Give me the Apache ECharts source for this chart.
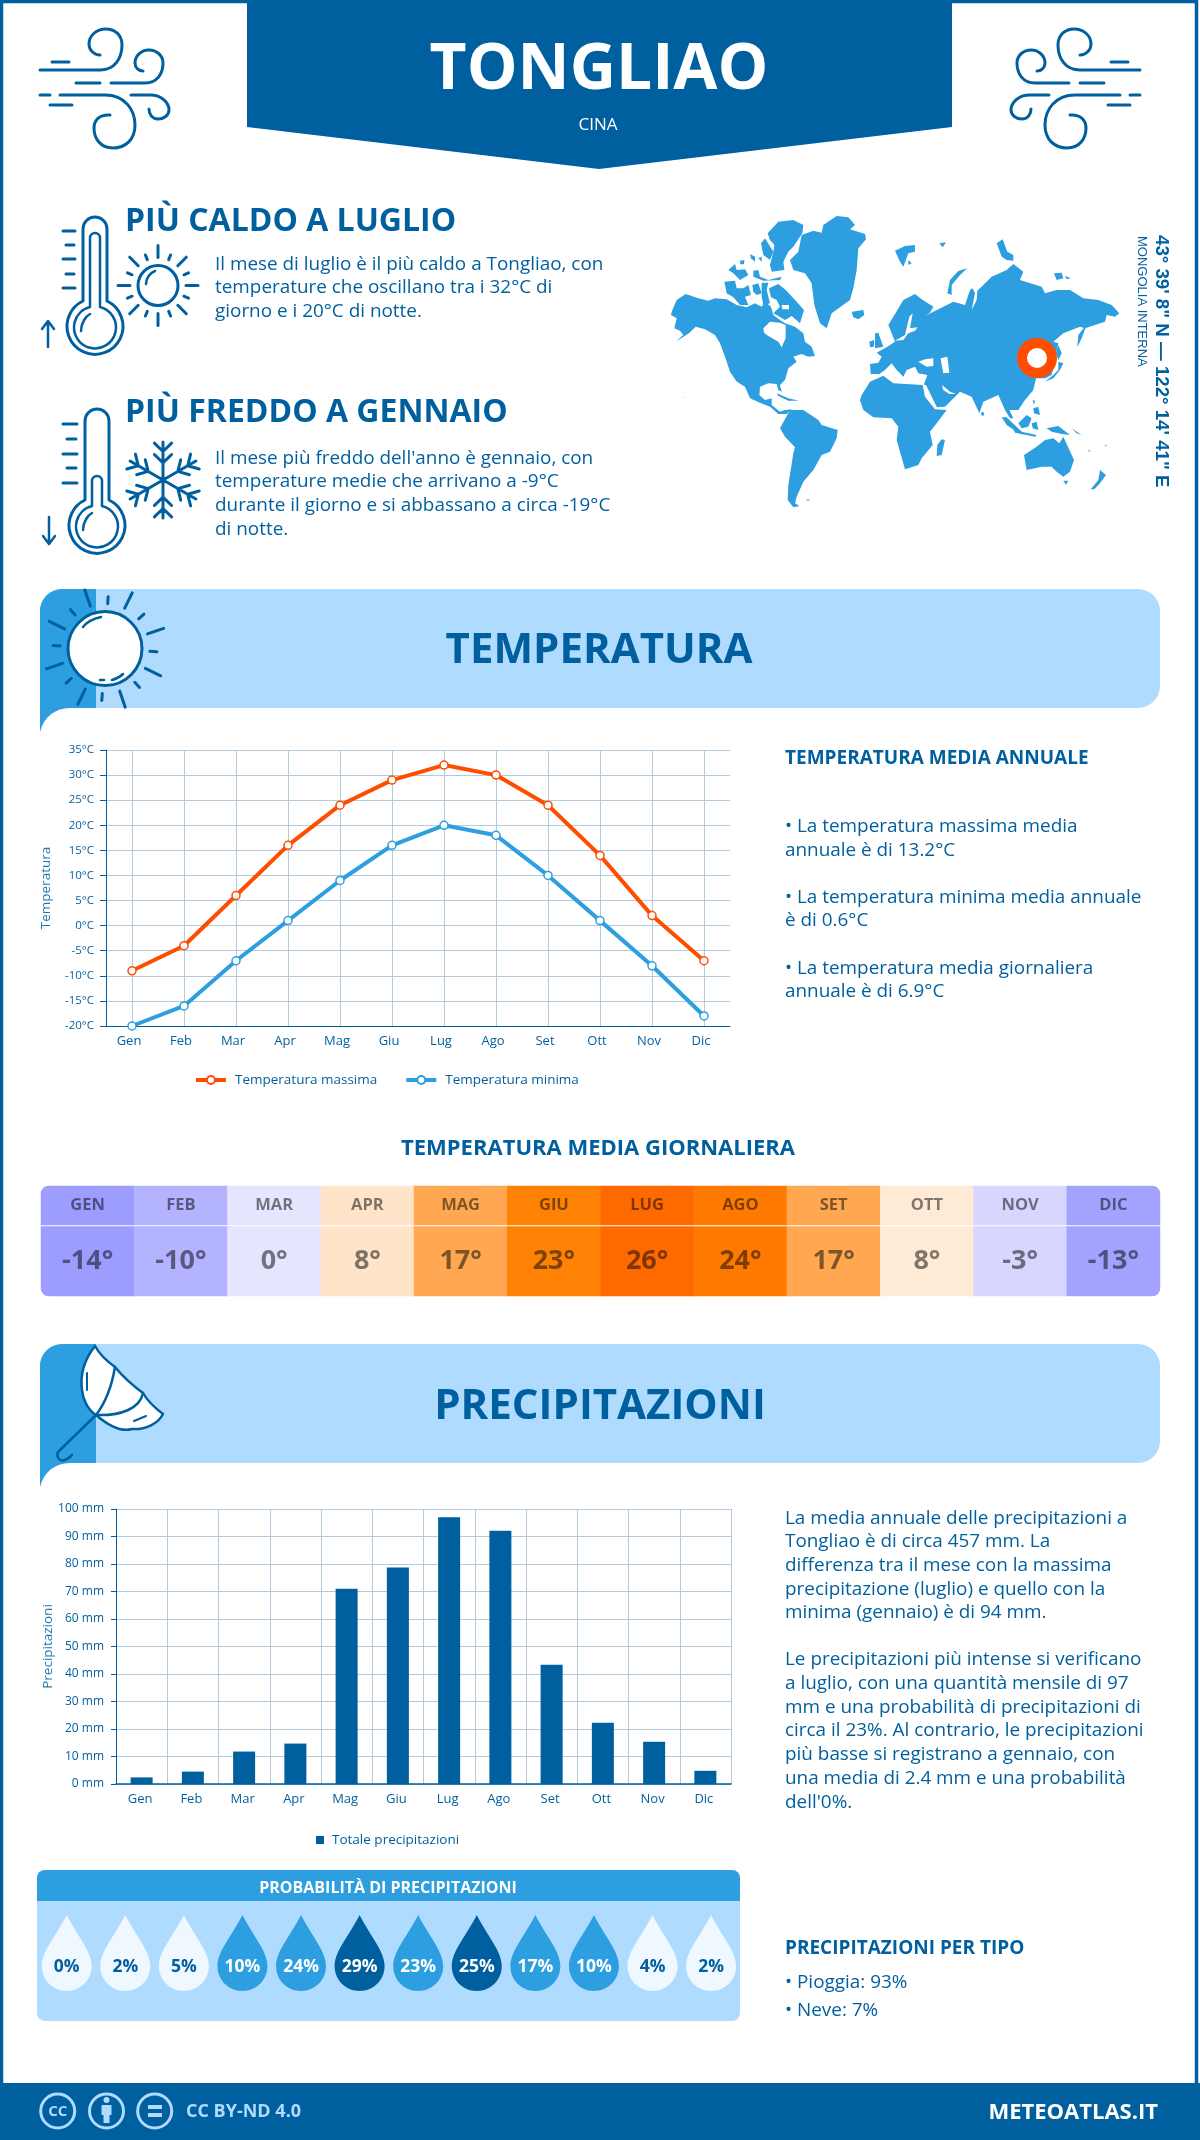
<!DOCTYPE html>
<html>
<head>
<meta charset="utf-8">
<title>Tongliao</title>
<script src="https://cdn.jsdelivr.net/npm/echarts@6/dist/echarts.min.js"></script>
<style>
    html, body { margin: 0; padding: 0; background: #fff; }
    #chart { width: 1200px; height: 2140px; }
</style>
</head>
<body>
<div id="chart"></div>
<script>
let months = ['Gen', 'Feb', 'Mar', 'Apr', 'Mag', 'Giu', 'Lug', 'Ago', 'Set', 'Ott', 'Nov', 'Dic'];
let monthsUpper = ['GEN', 'FEB', 'MAR', 'APR', 'MAG', 'GIU', 'LUG', 'AGO', 'SET', 'OTT', 'NOV', 'DIC'];
let tempMax = [-9, -4, 6, 16, 24, 29, 32, 30, 24, 14, 2, -7];
let tempMin = [-20, -16, -7, 1, 9, 16, 20, 18, 10, 1, -8, -18];
let tempDaily = [-14, -10, 0, 8, 17, 23, 26, 24, 17, 8, -3, -13];
let tempDailyColors = ['#9d9dff', '#b3b3ff', '#e5e5ff', '#ffe4ca', '#ffa851', '#ff8205', '#ff6a00', '#ff7a00', '#ffa851', '#ffead5', '#d6d6ff', '#a3a3ff'];
let rainTotal = [2.4, 4.5, 11.8, 14.7, 71, 78.7, 97, 92.1, 43.4, 22.3, 15.4, 4.8];
let rainChance = [0, 2, 5, 10, 24, 29, 23, 25, 17, 10, 4, 2];

const DARK = '#005f9e';
const MID = '#2d9fe0';
const LIGHT = '#afdbff';
const GRIDLINE = '#b4cbdd';
const FONT = '"Open Sans"';

function text(str, x, y, size, weight, color, align) {
    return {
        type: 'text', x: x, y: y + size * 0.07, z: 5,
        style: {
            text: str, fontFamily: FONT, fontSize: size, fontWeight: weight || 400,
            fill: color || DARK, align: align || 'left', verticalAlign: 'middle'
        }
    };
}

function lines(strs, x, ys, size) {
    return strs.map(function (s, i) { return text(s, x, ys[i], size); });
}

// graphic has no plain svg path type, so each path gets registered as its own shape
let shapeCount = 0;
function pathEl(d, z, style) {
    let name = 'iconPath' + (shapeCount++);
    echarts.graphic.registerShape(name, echarts.graphic.extendPath(d));
    return { type: name, z: z, style: style };
}

function stroke(d, width, fill) {
    return pathEl(d, 4, { stroke: DARK, lineWidth: width || 3, fill: fill || 'none', lineCap: 'round', lineJoin: 'round' });
}

function rays(cx, cy, n, start, spec) {
    let d = '';
    for (let i = 0; i < n; i++) {
        let a = (start + i * 360 / n) * Math.PI / 180;
        let r = spec[i % spec.length];
        d += 'M' + (cx + r[0] * Math.cos(a)).toFixed(1) + ' ' + (cy + r[0] * Math.sin(a)).toFixed(1);
        d += 'L' + (cx + r[1] * Math.cos(a)).toFixed(1) + ' ' + (cy + r[1] * Math.sin(a)).toFixed(1);
    }
    return d;
}

// wind icon, the right one is the same thing mirrored
let windPaths = [
    'M40 70H100C115 70 122 58 122 45C122 34 114 29 106 29C96 29 89 36 89 44C89 50 94 55 100 55',
    'M52 62H69', 'M76 83H100',
    'M111 83H145C157 83 163 74 163 63C163 55 156 50 149 50C141 50 135 56 135 63C135 68 139 71 143 71',
    'M60 95H105C125 95 135 110 135 125C135 140 125 148 113 148C100 148 94 138 94 128C94 120 100 114 110 115',
    'M40 95H50', 'M50 105H72',
    'M131 95H150C162 95 169 103 169 110C169 116 163 119 158 119C152 119 149 114 149 109'
];

function wind(x, scaleX) {
    return {
        type: 'group', x: x, y: 0, scaleX: scaleX, scaleY: 1,
        children: windPaths.map(function (p) { return stroke(p, 3); })
    };
}

function thermometer(cx, top, bulbY, innerTop) {
    return [
        stroke('M' + (cx - 12) + ' ' + (bulbY - 26) + 'V' + (top + 12) + 'A12 12 0 0 1 ' + (cx + 12) + ' ' + (top + 12) + 'V' + (bulbY - 26)
            + 'A28 28 0 1 1 ' + (cx - 12) + ' ' + (bulbY - 26) + 'Z', 3),
        stroke('M' + (cx - 5) + ' ' + (bulbY - 20) + 'V' + (innerTop + 5) + 'A5 5 0 0 1 ' + (cx + 5) + ' ' + (innerTop + 5) + 'V' + (bulbY - 20)
            + 'A21 21 0 1 1 ' + (cx - 5) + ' ' + (bulbY - 20) + 'Z', 2.5),
        stroke('M' + (cx - 14) + ' ' + (bulbY + 4) + 'C' + (cx - 14) + ' ' + (bulbY - 4) + ' ' + (cx - 9) + ' ' + (bulbY - 11) + ' ' + (cx - 5) + ' ' + (bulbY - 13), 2.5)
    ];
}

function snowflake(cx, cy, r) {
    let d = '';
    for (let i = 0; i < 6; i++) {
        let a = (90 + i * 60) * Math.PI / 180;
        let ux = Math.cos(a), uy = Math.sin(a);
        d += 'M' + cx + ' ' + cy + 'L' + (cx + r * ux).toFixed(1) + ' ' + (cy + r * uy).toFixed(1);
        [0.45, 0.75].forEach(function (k) {
            [-1, 1].forEach(function (s) {
                let b = a + s * 0.8;
                let bx = cx + r * k * ux, by = cy + r * k * uy;
                d += 'M' + bx.toFixed(1) + ' ' + by.toFixed(1) + 'L' + (bx + 12 * Math.cos(b)).toFixed(1) + ' ' + (by + 12 * Math.sin(b)).toFixed(1);
            });
        });
    }
    return d;
}

function sectionBand(top, bottom) {
    return [
        { type: 'rect', z: 1, shape: { x: 40, y: top, width: 1120, height: bottom - top, r: 22 }, style: { fill: LIGHT } },
        pathEl('M40 ' + (bottom + 24) + 'C44 ' + (bottom + 8) + ' 56 ' + bottom + ' 70 ' + bottom + 'H96V' + top + 'H62A22 22 0 0 0 40 ' + (top + 22) + 'Z', 2, { fill: MID })
    ];
}

// world map, traced at 3x from two crops: the americas side and the old world side
let westLand = [
    // north america
    [[20,305],[35,270],[62,252],[100,265],[130,272],[150,265],[185,268],[215,285],[245,292],[270,280],[290,290],[300,275],[318,290],[325,315],[345,330],[360,340],[390,350],[415,370],[420,395],[440,410],[450,438],[430,440],[410,432],[385,440],[395,455],[370,475],[360,510],[345,525],[350,545],[340,540],[335,522],[310,520],[285,530],[283,555],[300,570],[320,565],[320,585],[345,605],[360,600],[355,612],[340,612],[315,590],[285,578],[255,565],[240,530],[215,515],[195,485],[180,440],[165,400],[150,375],[120,358],[92,350],[72,370],[32,395],[55,375],[45,362],[28,355],[35,325],[18,315]],
    // arctic islands
    [[312,235],[340,222],[362,240],[395,275],[417,300],[405,340],[380,318],[360,330],[340,318],[325,310],[345,290],[335,270],[318,262]],
    [[178,215],[210,212],[215,235],[235,235],[250,225],[258,255],[240,260],[250,285],[225,285],[205,262],[185,250]],
    [[262,225],[280,220],[290,250],[275,255],[265,245]],
    [[290,218],[310,218],[305,240],[315,280],[295,285],[290,260]],
    [[265,182],[280,180],[285,200],[310,210],[350,200],[345,210],[295,212],[265,200]],
    [[190,180],[210,162],[215,180],[240,178],[250,195],[225,210],[205,190]],
    [[255,132],[270,140],[270,155],[258,145]],
    [[280,145],[290,140],[290,155]],
    [[225,152],[238,150],[237,163],[226,163]],
    [[308,70],[340,35],[385,30],[415,45],[412,70],[385,110],[370,125],[355,155],[358,180],[320,185],[315,165],[325,125],[328,105],[315,90]],
    [[288,100],[300,85],[325,125],[315,150],[295,135]],
    // greenland and iceland
    [[475,45],[515,18],[550,22],[570,45],[555,58],[600,72],[603,88],[580,115],[575,180],[565,235],[555,270],[500,310],[485,355],[465,340],[448,285],[440,220],[420,190],[385,180],[375,150],[400,125],[410,75],[445,62],[470,68]],
    [[560,305],[595,300],[598,315],[580,328],[565,322]],
    // caribbean and hawaii
    [[335,550],[370,565],[402,572],[370,572],[340,558]],
    [[50,555],[68,566],[60,562]],
    // south america
    [[345,655],[375,600],[415,600],[460,630],[470,645],[518,660],[515,685],[495,725],[470,735],[445,780],[415,815],[395,860],[390,880],[403,888],[385,892],[368,870],[370,825],[385,730],[390,712],[360,680]],
    [[340,610],[360,600],[380,598],[365,612],[345,612]],
    [[420,870],[435,868],[430,872]]
];
let westSea = [
    // hudson bay, foxe basin, gulf of california
    [[295,355],[315,335],[345,338],[362,345],[362,385],[350,412],[340,395],[310,378],[297,368]],
    [[350,285],[372,285],[372,298],[352,298]],
    [[213,515],[218,515],[242,550],[238,552]]
];
let eastLand = [
    // eurasia
    [[60,462],[85,458],[95,440],[80,428],[112,410],[135,395],[125,370],[115,345],[130,320],[160,270],[195,252],[215,268],[250,290],[240,308],[225,318],[265,298],[310,275],[345,285],[360,240],[368,235],[375,250],[365,300],[380,270],[382,242],[400,225],[425,200],[470,180],[490,162],[520,185],[510,210],[575,230],[585,250],[620,240],[660,240],[700,265],[745,270],[785,285],[808,310],[795,320],[770,315],[765,335],[705,355],[690,350],[640,370],[610,395],[625,400],[605,495],[585,505],[558,505],[550,540],[525,570],[505,600],[478,600],[490,625],[480,625],[465,600],[445,555],[400,575],[388,610],[365,560],[330,545],[300,575],[285,590],[260,592],[222,522],[232,495],[205,490],[195,470],[170,480],[160,500],[140,480],[125,460],[105,480],[88,492],[62,492]],
    // africa and madagascar
    [[35,555],[60,515],[100,497],[130,520],[218,525],[225,560],[255,598],[290,600],[260,640],[240,665],[248,705],[215,745],[205,765],[165,778],[150,725],[140,690],[145,650],[125,625],[70,622],[40,600],[30,570]],
    [[275,688],[285,690],[275,735],[260,738],[262,705]],
    // uk and ireland
    [[75,370],[85,368],[100,410],[75,415]],
    [[58,395],[72,390],[72,410],[60,412]],
    // arctic islands
    [[135,122],[165,108],[195,105],[195,125],[175,130],[160,170],[150,155]],
    [[175,150],[185,160],[175,165]],
    [[268,100],[288,97],[278,112]],
    [[292,250],[300,210],[325,183],[352,175],[330,195],[305,225],[305,255]],
    [[440,100],[458,88],[472,125],[490,135],[490,152],[470,150],[455,140]],
    [[612,190],[635,188],[640,205],[620,210]],
    [[645,197],[662,205],[650,208]],
    // east and south-east asia
    [[682,412],[685,375],[712,340],[695,385]],
    [[585,515],[610,495],[625,480],[625,455],[640,460],[630,480],[610,505]],
    [[625,405],[635,430],[625,450],[618,430]],
    [[548,570],[555,572],[552,585]],
    [[550,595],[565,590],[570,615],[552,610]],
    [[505,565],[512,565],[508,572]],
    [[455,622],[470,622],[520,670],[500,665],[470,645]],
    [[490,660],[560,675],[555,680],[495,668]],
    [[505,640],[530,615],[545,625],[535,650],[515,655]],
    [[545,640],[560,635],[565,660],[548,655]],
    [[590,655],[625,648],[660,675],[635,672],[605,665]],
    [[395,605],[403,608],[400,618],[393,615]],
    [[665,655],[695,675],[680,670]],
    [[715,718],[723,725],[716,724]],
    [[762,708],[772,704],[768,709]],
    // australia and new zealand
    [[522,735],[560,710],[585,690],[610,685],[628,700],[640,680],[672,750],[660,785],[640,800],[620,785],[605,770],[575,770],[530,780]],
    [[640,812],[655,812],[648,825]],
    [[722,838],[745,810],[750,780],[768,795],[750,820],[733,838]]
];
let eastSea = [
    // baltic, black sea, caspian, red sea, persian gulf
    [[135,392],[165,375],[178,320],[188,310],[180,355],[203,352],[195,362],[175,370],[160,390]],
    [[205,455],[225,448],[250,445],[250,468],[230,470]],
    [[272,445],[292,440],[298,488],[280,490],[275,465]],
    [[276,525],[300,545],[318,552],[298,552],[280,540]],
    [[218,525],[228,525],[262,595],[255,595]]
];

function mapShapes(x, land, sea) {
    let scaled = function (pts) {
        return pts.map(function (p) { return [x + p[0] / 3, 210 + p[1] / 3]; });
    };
    return land.map(function (pts) {
        return { type: 'polygon', z: 6, shape: { points: scaled(pts) }, style: { fill: MID } };
    }).concat(sea.map(function (pts) {
        return { type: 'polygon', z: 7, shape: { points: scaled(pts) }, style: { fill: '#fff' } };
    }));
}

let hotText = ['Il mese di luglio è il più caldo a Tongliao, con', 'temperature che oscillano tra i 32°C di', 'giorno e i 20°C di notte.'];
let coldText = ['Il mese più freddo dell\'anno è gennaio, con', 'temperature medie che arrivano a -9°C', 'durante il giorno e si abbassano a circa -19°C', 'di notte.'];
let tempNotes = ['• La temperatura massima media', 'annuale è di 13.2°C', '• La temperatura minima media annuale', 'è di 0.6°C', '• La temperatura media giornaliera', 'annuale è di 6.9°C'];
let rainNotes = [
    'La media annuale delle precipitazioni a', 'Tongliao è di circa 457 mm. La', 'differenza tra il mese con la massima',
    'precipitazione (luglio) e quello con la', 'minima (gennaio) è di 94 mm.',
    'Le precipitazioni più intense si verificano', 'a luglio, con una quantità mensile di 97', 'mm e una probabilità di precipitazioni di',
    'circa il 23%. Al contrario, le precipitazioni', 'più basse si registrano a gennaio, con', 'una media di 2.4 mm e una probabilità', 'dell\'0%.'
];

let decor = [].concat(
    [
        { type: 'rect', z: 0, shape: { x: 1.5, y: 1.5, width: 1195, height: 2090 }, style: { fill: '#fff', stroke: DARK, lineWidth: 3.5 } },
        { type: 'polygon', z: 1, shape: { points: [[247, 0], [952, 0], [952, 127], [599, 169], [247, 127]] }, style: { fill: DARK } },
        { type: 'rect', z: 1, shape: { x: 0, y: 2083, width: 1200, height: 57 }, style: { fill: DARK } },
        text('TONGLIAO', 599, 66, 64, 700, '#fff', 'center'),
        text('CINA', 598, 124, 17, 400, '#fff', 'center'),
        wind(0, 1),
        wind(1180, -1),
        text('PIÙ CALDO A LUGLIO', 125, 220, 32, 700),
        text('PIÙ FREDDO A GENNAIO', 125, 411, 32, 700)
    ],
    lines(hotText, 215, [263, 286, 310], 18.9),
    lines(coldText, 215, [457, 480, 504, 528], 18.9),
    thermometer(95, 217, 327, 233),
    thermometer(97, 409, 526, 476),
    [
        stroke('M63 231H75M66 245H74M63 259H75M66 274H74M63 288H75', 3),
        stroke('M48 347V322M42 329L48 321L54 329', 2.5),
        stroke('M63 424H77M67 439H76M63 454H77M67 468H76M63 483H77', 3),
        stroke('M49 517V543M43 536L49 544L55 536', 2.5),
        { type: 'circle', z: 4, shape: { cx: 158, cy: 285.5, r: 20 }, style: { stroke: DARK, lineWidth: 3, fill: 'none' } },
        stroke('M146 284C146 278 150 273 155 271', 2.5),
        stroke(rays(158, 285.5, 16, -90, [[28, 40], [28, 33]]), 3),
        stroke(snowflake(163, 480, 38), 3)
    ],
    mapShapes(665, westLand, westSea),
    mapShapes(850, eastLand, eastSea),
    [
        { type: 'circle', z: 8, shape: { cx: 1037, cy: 358, r: 15 }, style: { fill: '#fff', stroke: '#ff4d00', lineWidth: 10 } },
        { type: 'text', x: 1161, y: 235, rotation: -Math.PI / 2, z: 5, style: { text: '43° 39\' 8" N — 122° 14\' 41" E', fontFamily: '"Liberation Sans"', fontWeight: 700, fontSize: 18.7, fill: DARK, align: 'left', verticalAlign: 'middle' } },
        { type: 'text', x: 1142, y: 236, rotation: -Math.PI / 2, z: 5, style: { text: 'MONGOLIA INTERNA', fontFamily: '"Liberation Sans"', fontSize: 13, fill: DARK, align: 'left', verticalAlign: 'middle' } }
    ],
    sectionBand(589, 708),
    [
        text('TEMPERATURA', 599, 648, 42, 700, DARK, 'center'),
        { type: 'circle', z: 4, shape: { cx: 105, cy: 648.6, r: 37 }, style: { fill: '#fff', stroke: DARK, lineWidth: 3 } },
        stroke(rays(105, 648.6, 16, -109, [[45, 62], [45, 52]]), 3),
        stroke('M83 627C86 623 92 619 101 617', 2.5),
        stroke('M112 680C116 679 120 677 123 674M100 680L104 680', 2.5),
        text('TEMPERATURA MEDIA ANNUALE', 785, 757, 19, 700)
    ],
    lines(tempNotes, 785, [825, 849, 896, 919, 967, 990], 18.9),
    [text('TEMPERATURA MEDIA GIORNALIERA', 598, 1147, 22, 700, DARK, 'center')],
    sectionBand(1344, 1463),
    [
        text('PRECIPITAZIONI', 600, 1404, 42, 700, DARK, 'center'),
        stroke('M95 1346C84 1360 80 1375 82 1390C83 1400 88 1410 96 1415C110 1427 122 1432 132 1429C145 1430 158 1424 163 1414C155 1408 147 1400 143 1393C132 1385 124 1378 115 1367C108 1362 100 1355 95 1346Z', 2.5, '#fff'),
        stroke('M115 1367C112 1385 106 1402 96 1415M143 1393C140 1408 122 1416 96 1415M96 1415L58 1452C56 1458 60 1462 65 1460C68 1459 70 1457 72 1455', 2.5),
        stroke('M87 1373V1390M134 1421L146 1416', 2),
        { type: 'rect', z: 1, shape: { x: 37, y: 1870, width: 703, height: 151, r: 8 }, style: { fill: LIGHT } },
        pathEl('M37 1901V1878A8 8 0 0 1 45 1870H732A8 8 0 0 1 740 1878V1901Z', 2, { fill: MID }),
        text('PROBABILITÀ DI PRECIPITAZIONI', 388, 1887, 16, 700, '#fff', 'center')
    ],
    lines(rainNotes, 785, [1517, 1540, 1564, 1588, 1611, 1658, 1682, 1706, 1729, 1753, 1777, 1801], 18.9),
    [
        text('PRECIPITAZIONI PER TIPO', 785, 1947, 19, 700),
        text('• Pioggia: 93%', 785, 1981, 18.9),
        text('• Neve: 7%', 785, 2009, 18.9)
    ],
    [57.7, 106.5, 154.7].map(function (cx) {
        return { type: 'circle', z: 4, shape: { cx: cx, cy: 2111, r: 17 }, style: { stroke: LIGHT, lineWidth: 3, fill: 'none' } };
    }),
    [
        text('CC', 57.7, 2111, 15, 700, LIGHT, 'center'),
        { type: 'circle', z: 4, shape: { cx: 106.5, cy: 2100, r: 3 }, style: { fill: LIGHT } },
        { type: 'rect', z: 4, shape: { x: 101.5, y: 2105, width: 10, height: 10 }, style: { fill: LIGHT } },
        { type: 'rect', z: 4, shape: { x: 103.5, y: 2115, width: 6, height: 8 }, style: { fill: LIGHT } },
        { type: 'rect', z: 4, shape: { x: 148, y: 2105, width: 14, height: 4 }, style: { fill: LIGHT } },
        { type: 'rect', z: 4, shape: { x: 148, y: 2113, width: 14, height: 4 }, style: { fill: LIGHT } },
        text('CC BY-ND 4.0', 186, 2111, 18, 700, LIGHT),
        text('METEOATLAS.IT', 1158, 2111, 22, 700, '#fff', 'right')
    ]
);

function axisLabelStyle(extra) {
    return Object.assign({ color: DARK, fontFamily: FONT, fontSize: 13 }, extra);
}

let option = {
    animation: false,
    backgroundColor: '#fff',
    textStyle: { fontFamily: FONT },
    graphic: { elements: decor },
    grid: [
        { left: 106, top: 750, width: 624, height: 276 },
        { left: 116, top: 1509, width: 615, height: 275 },
        { left: 41, top: 1186, width: 1119, height: 39 },
        { left: 41, top: 1226.5, width: 1119, height: 69.5 },
        { left: 37.4, top: 1915, width: 703, height: 76 }
    ],
    legend: [
        {
            data: ['Temperatura massima', 'Temperatura minima'],
            left: 189, top: 1068, itemWidth: 30, itemHeight: 10, itemGap: 27,
            lineStyle: { width: 4 },
            textStyle: { color: DARK, fontFamily: FONT, fontSize: 13.5, padding: [0, 0, 0, 4] }
        },
        {
            data: ['Totale precipitazioni'],
            icon: 'rect',
            left: 311, top: 1828, itemWidth: 8, itemHeight: 8, itemGap: 0,
            textStyle: { color: DARK, fontFamily: FONT, fontSize: 13.5, padding: [0, 0, 0, 3] }
        }
    ],
    xAxis: [
        {
            gridIndex: 0, type: 'category', data: months,
            axisLine: { onZero: false, lineStyle: { color: DARK } }, axisTick: { show: false },
            axisLabel: axisLabelStyle({ margin: 9, padding: [0, 6, 0, 0] }),
            splitLine: { show: true, alignWithLabel: true, lineStyle: { color: GRIDLINE } }
        },
        {
            gridIndex: 1, type: 'category', data: months,
            axisLine: { lineStyle: { color: DARK, width: 1.5 } }, axisTick: { show: false },
            axisLabel: axisLabelStyle({ margin: 9, padding: [0, 3, 0, 0] }),
            splitLine: { show: true, lineStyle: { color: GRIDLINE } }
        },
        { gridIndex: 2, type: 'category', data: monthsUpper, show: false },
        { gridIndex: 3, type: 'category', data: monthsUpper, show: false },
        {
            gridIndex: 4, type: 'category', data: monthsUpper,
            axisLine: { show: false }, axisTick: { show: false },
            axisLabel: axisLabelStyle({ margin: 7, fontSize: 13, fontWeight: 700 })
        }
    ],
    yAxis: [
        {
            gridIndex: 0, type: 'value', min: -20, max: 35, interval: 5,
            name: 'Temperatura', nameLocation: 'middle', nameGap: 53, nameMoveOverlap: false,
            nameTextStyle: { color: '#1f78b4', fontFamily: FONT, fontSize: 13.5 },
            axisLine: { show: true, lineStyle: { color: DARK } },
            axisTick: { show: true, length: 6, lineStyle: { color: DARK } },
            axisLabel: axisLabelStyle({ formatter: '{value}°C', margin: 12, fontSize: 11.5 }),
            splitLine: { lineStyle: { color: GRIDLINE } }
        },
        {
            gridIndex: 1, type: 'value', min: 0, max: 100, interval: 10,
            name: 'Precipitazioni', nameLocation: 'middle', nameGap: 61, nameMoveOverlap: false,
            nameTextStyle: { color: '#1f78b4', fontFamily: FONT, fontSize: 13.5 },
            axisLine: { show: true, lineStyle: { color: DARK } },
            axisTick: { show: true, length: 5, lineStyle: { color: DARK } },
            axisLabel: axisLabelStyle({ formatter: '{value} mm', margin: 12, fontSize: 12 }),
            splitLine: { lineStyle: { color: GRIDLINE } }
        },
        { gridIndex: 2, type: 'category', data: ['mese'], show: false },
        { gridIndex: 3, type: 'category', data: ['gradi'], show: false },
        { gridIndex: 4, type: 'category', data: ['prob'], show: false }
    ],
    series: [
        {
            name: 'Temperatura massima', type: 'line', xAxisIndex: 0, yAxisIndex: 0, data: tempMax,
            symbol: 'circle', symbolSize: 8, z: 4,
            lineStyle: { color: '#ff4d00', width: 4 },
            itemStyle: { color: '#fff', borderColor: '#ff4d00', borderWidth: 1.5 }
        },
        {
            name: 'Temperatura minima', type: 'line', xAxisIndex: 0, yAxisIndex: 0, data: tempMin,
            symbol: 'circle', symbolSize: 8, z: 4,
            lineStyle: { color: MID, width: 4 },
            itemStyle: { color: '#fff', borderColor: MID, borderWidth: 1.5 }
        },
        {
            name: 'Totale precipitazioni', type: 'bar', xAxisIndex: 1, yAxisIndex: 1, data: rainTotal,
            barWidth: 22, itemStyle: { color: DARK }
        },
        {
            type: 'heatmap', xAxisIndex: 2, yAxisIndex: 2,
            data: tempDaily.map(function (v, i) {
                return { value: [i, 0, v], itemStyle: { color: tempDailyColors[i], borderRadius: i === 0 ? [8, 0, 0, 0] : (i === 11 ? [0, 8, 0, 0] : 0) } };
            }),
            label: {
                show: true, color: 'rgba(0,0,0,0.5)', fontFamily: FONT, fontSize: 16.5, fontWeight: 700,
                formatter: function (p) { return monthsUpper[p.dataIndex]; }
            }
        },
        {
            type: 'heatmap', xAxisIndex: 3, yAxisIndex: 3,
            data: tempDaily.map(function (v, i) {
                return { value: [i, 0, v], itemStyle: { color: tempDailyColors[i], borderRadius: i === 0 ? [0, 0, 0, 8] : (i === 11 ? [0, 0, 8, 0] : 0) } };
            }),
            label: {
                show: true, color: 'rgba(0,0,0,0.5)', fontFamily: FONT, fontSize: 27, fontWeight: 700,
                formatter: function (p) { return p.value[2] + '°'; }
            }
        },
        {
            type: 'scatter', xAxisIndex: 4, yAxisIndex: 4, z: 4,
            symbol: 'path://M25 0C35 20 50 36 50 51C50 65 39 76 25 76C11 76 0 65 0 51C0 36 15 20 25 0Z',
            symbolSize: [50, 76],
            data: rainChance.map(function (v, i) {
                return {
                    value: [i, 0, v],
                    itemStyle: { color: v >= 25 ? DARK : (v >= 10 ? MID : '#eff7ff'), opacity: 1 },
                    label: { color: v >= 10 ? '#fff' : DARK }
                };
            }),
            label: {
                show: true, position: 'inside', offset: [0, 14], fontFamily: FONT, fontSize: 17.5, fontWeight: 700,
                formatter: function (p) { return p.value[2] + '%'; }
            }
        }
    ]
};

let myChart = echarts.init(document.getElementById('chart'));
myChart.setOption(option);
</script>
</body>
</html>
